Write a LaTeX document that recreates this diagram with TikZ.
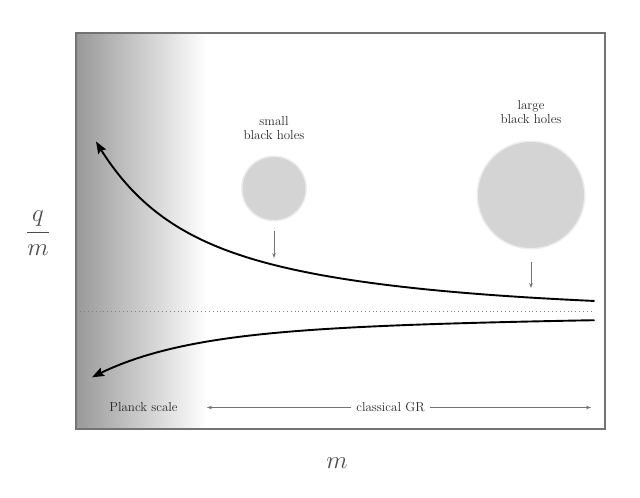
\documentclass[tikz,border=0pt]{standalone}
\usetikzlibrary{arrows.meta}
\begin{document}
\begin{tikzpicture}[x=1pt,y=-1pt,
  frame/.style={draw=black!55,line width=1.5pt},
  curve/.style={line width=1.9pt,line cap=round,-{Stealth[length=12pt,width=9pt,inset=2pt]}},
  pointer/.style={draw=black!55,line width=0.7pt,-{Stealth[length=5pt,width=3.5pt]}},
  lbl/.style={text=black!85,font=\fontsize{13}{14}\selectfont,inner sep=0pt,align=center},
  mathlbl/.style={text=black!70,font=\fontsize{27}{30}\selectfont,inner sep=0pt}]
\useasboundingbox (0,0) rectangle (640,498);
% background gradient
\shade[left color=black!40,right color=white] (76,33) rectangle (207,429);
% reference dotted line
\draw[black!50,line width=0.9pt,dash pattern=on 0.9pt off 3pt] (80,311) -- (594,311);
% black holes
\foreach \cx/\cy/\r in {274/188.5/30.5,531/195/52}{
  \fill[black!20,opacity=0.35] (\cx,\cy) circle (\r+2.5);
  \fill[black!22,opacity=0.6] (\cx,\cy) circle (\r+1);
  \fill[black!17] (\cx,\cy) circle (\r-1);
}
\node[lbl,anchor=south] (small) at (274,140) {small\\black holes};
\node[lbl,anchor=south] (large) at (531,123.5) {large\\black holes};
\coordinate (sa1) at (274,231); \coordinate (sa2) at (274,258);
\coordinate (la1) at (531,262); \coordinate (la2) at (531,288);
\draw[pointer] (sa1) -- (sa2);
\draw[pointer] (la1) -- (la2);
% curves
\draw[curve] plot[domain=594:96,samples=120,smooth]
  (\x,{311-94.5*exp(-0.0045*(\x-96))-75*exp(-0.017*(\x-96))});
\draw[curve] plot[domain=594:92,samples=120,smooth]
  (\x,{311+22.3*exp(-0.0018*(\x-92))+44*exp(-0.011*(\x-92))});
% bottom labels
\node[lbl,anchor=base] (planck) at (143.5,411.5) {Planck scale};
\node[lbl,anchor=base] (cgr) at (390.5,411.5) {classical GR};
\coordinate (gl) at (207,407.5); \coordinate (gr) at (591,407.5);
\draw[pointer,line width=0.6pt] (cgr.west|-gl) ++(-5,0) -- (gl);
\draw[pointer,line width=0.6pt] (cgr.east|-gr) ++(5,0) -- (gr);
% frame
\draw[frame] (76,33) rectangle (605,429);
% axis labels
\node[mathlbl] (qm) at (38,233) {$\displaystyle\frac{q}{m}$};
\node[mathlbl] (m) at (337,463) {$m$};
\end{tikzpicture}
\end{document}
